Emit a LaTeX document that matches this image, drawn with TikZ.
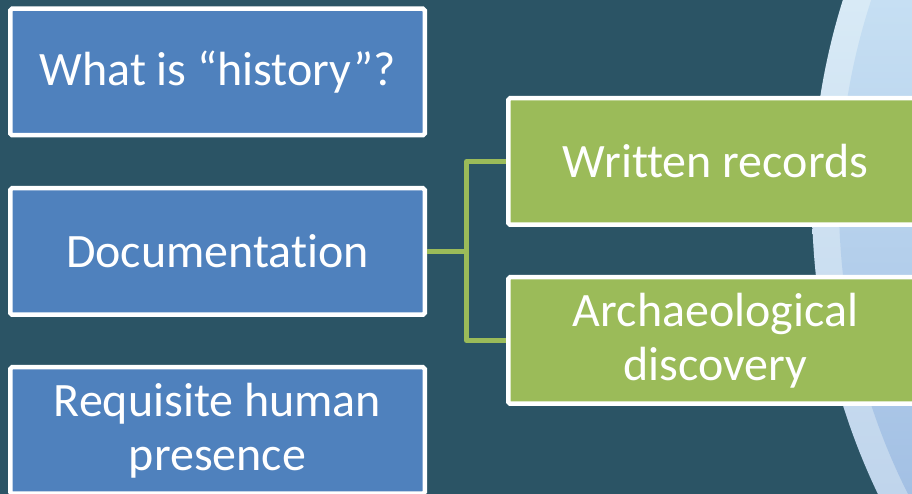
\documentclass[tikz,border=0pt]{standalone}
\usepackage{fontspec}
\setmainfont[Ligatures=CommonOff]{Carlito}
\usetikzlibrary{positioning}
\definecolor{slate}{RGB}{43,84,101}
\definecolor{sblue}{RGB}{79,129,189}
\definecolor{sgreen}{RGB}{155,187,89}
\definecolor{ringtop}{RGB}{216,234,246}
\definecolor{ringbot}{RGB}{192,213,236}
\definecolor{disctop}{RGB}{198,223,243}
\definecolor{discbot}{RGB}{163,192,228}
\tikzset{
  item/.style={draw=white,line width=0.09cm,fill=#1,rounded corners=1pt,minimum width=8.29cm,minimum height=2.53cm,align=center,text=white,font=\fontsize{27.3}{31}\selectfont,inner sep=0pt},
  item/.default=sblue,
  link/.style={draw=sgreen,line width=0.1cm,line join=round},
}

\begin{document}
\begin{tikzpicture}
 \useasboundingbox (0,0) rectangle (18.24,9.88);
 \clip (0,0) rectangle (18.24,9.88);
 \fill[slate] (0,0) rectangle (18.24,9.88);
 % backdrop circles
 \begin{scope}
  \clip (29.76,5.83) circle (13.52);
  \shade[top color=ringtop,bottom color=ringbot] (16,0) rectangle (18.24,9.88);
 \end{scope}
 \begin{scope}
  \clip (29.76,5.83) circle (12.98);
  \shade[top color=disctop,bottom color=discbot] (16,0) rectangle (18.24,9.88);
 \end{scope}
 % left column
 \node[item] (hist) at (4.35,8.44) {What is “history”?};
 \node[item] (doc) at (4.35,4.85) {Documentation};
 \node[item] (pres) at (4.35,1.27) {Requisite human\\presence};
 % right column
 \node[item=sgreen] (rec) at (14.31,6.65) {Written records};
 \node[item=sgreen] (arch) at (14.31,3.07) {Archaeological\\discovery};
 \coordinate (j) at (9.33,4.85);
 \draw[link] (doc.east) -- (j);
 \draw[link] (rec.west) -| (j) |- (arch.west);
\end{tikzpicture}
\end{document}
